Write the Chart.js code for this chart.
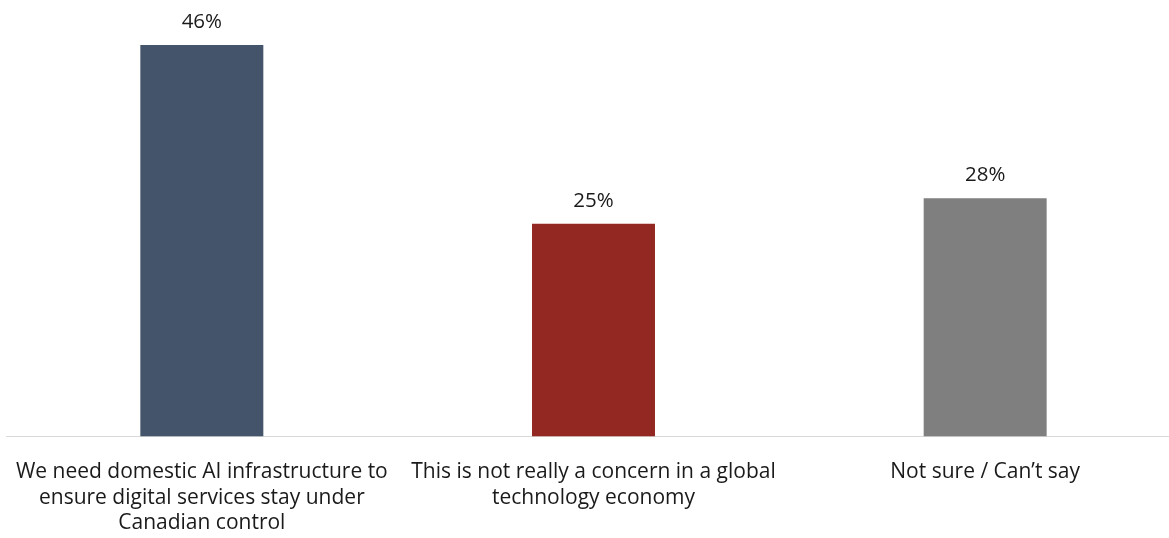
<!DOCTYPE html>
<html>
<head>
<meta charset="utf-8">
<script src="https://cdn.jsdelivr.net/npm/chart.js@4.4.1/dist/chart.umd.min.js"></script>
<style>
  html, body { margin: 0; padding: 0; background: #fff; overflow: hidden; }
  #wrap { position: relative; width: 1181px; height: 559px; }
</style>
</head>
<body>
<div id="wrap"><canvas id="grafico"></canvas></div>
<script>
// Datos del gráfico
const categorias = [
  ["We need domestic AI infrastructure to", "ensure digital services stay under", "Canadian control"],
  ["This is not really a concern in a global", "technology economy"],
  ["Not sure / Can\u2019t say"]
];
const porcentajes = [46, 25, 28];
const colores = ["#44546a", "#922821", "#7f7f7f"];

const fuente = "'Open Sans', Lato, sans-serif";

// Etiquetas de valor encima de cada barra
const etiquetasValor = {
  id: "etiquetasValor",
  afterDatasetsDraw(chart) {
    const ctx = chart.ctx;
    const meta = chart.getDatasetMeta(0);
    ctx.save();
    ctx.font = "20.5px " + fuente;
    ctx.fillStyle = "#1a1a1a";
    ctx.textAlign = "center";
    ctx.textBaseline = "alphabetic";
    meta.data.forEach((bar, i) => {
      ctx.fillText(porcentajes[i] + "%", bar.x, bar.y - 17);
    });
    ctx.restore();
  }
};

new Chart(document.getElementById("grafico"), {
  type: "bar",
  data: {
    labels: categorias,
    datasets: [{
      data: porcentajes,
      backgroundColor: colores,
      borderWidth: 0,
      barPercentage: 0.314,
      categoryPercentage: 1
    }]
  },
  options: {
    responsive: true,
    maintainAspectRatio: false,
    animation: false,
    layout: { padding: { left: 6, right: 0, top: 11, bottom: 0 } },
    plugins: {
      legend: { display: false },
      tooltip: { enabled: false }
    },
    scales: {
      x: {
        grid: { display: false, drawTicks: false },
        border: { color: "#d9d9d9", width: 1 },
        ticks: {
          color: "#1a1a1a",
          font: { family: fuente, size: 21, lineHeight: "25.5px" },
          padding: 23,
          maxRotation: 0,
          autoSkip: false
        },
        // sin margen extra a los lados por las etiquetas largas
        afterFit(scale) {
          scale.paddingLeft = 0;
          scale.paddingRight = 0;
        }
      },
      y: {
        display: false,
        min: 0,
        max: 50
      }
    }
  },
  plugins: [etiquetasValor]
});
</script>
</body>
</html>
